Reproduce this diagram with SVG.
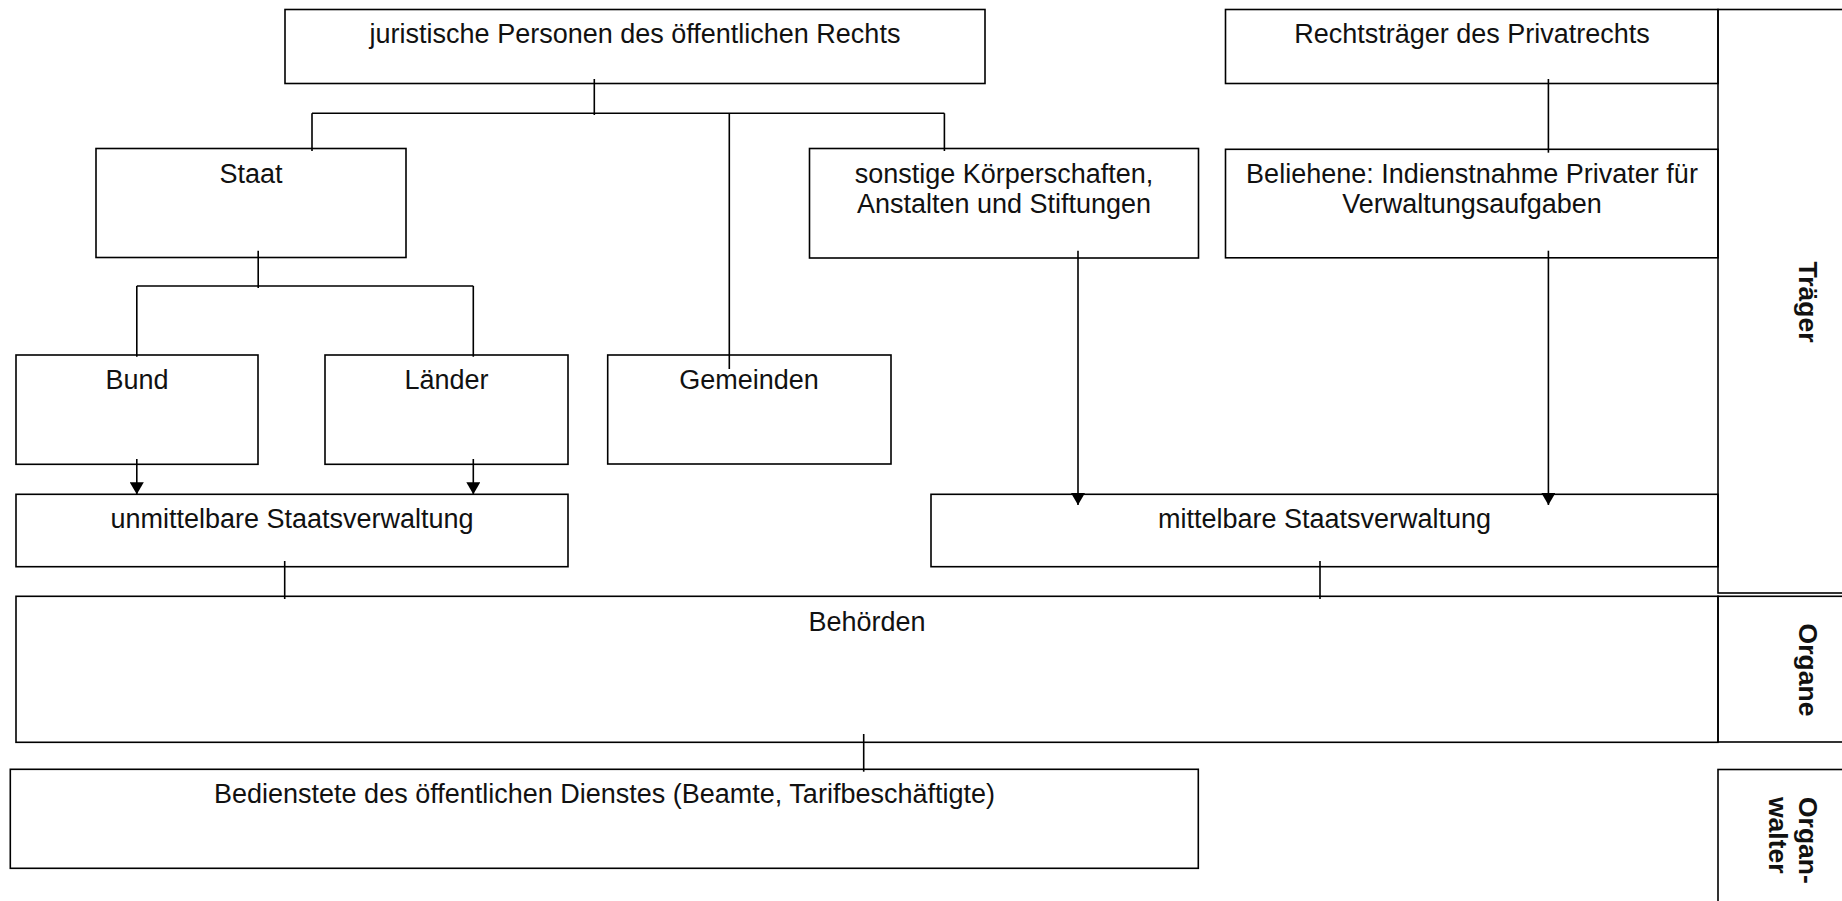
<svg xmlns="http://www.w3.org/2000/svg" width="1842" height="901" viewBox="0 0 1842 901">
  <style>
    .box { fill: none; stroke: #000; stroke-width: 1.6; }
    .lbl { font-family: "Liberation Sans", Arial, sans-serif; font-size: 27px; fill: #111; text-anchor: middle; }
    .side { font-family: "Liberation Sans", Arial, sans-serif; font-size: 26.5px; font-weight: bold; fill: #111; }
    .wire { fill: none; stroke: #000; stroke-width: 1.6; }
    .arrow { marker-end: url(#head); }
  </style>
  <defs>
    <marker id="head" viewBox="0 0 12 14" refX="12" refY="7" markerWidth="12" markerHeight="14" markerUnits="userSpaceOnUse" orient="auto">
      <path d="M0,0 L12,7 L0,14 z" fill="#000"/>
    </marker>
  </defs>
  <rect width="1842" height="901" fill="#fff"/>

  <!-- connectors -->
  <g id="connectors">
    <path class="wire" d="M594.3,79 V115 M312,113.3 H944.4 M312,113.3 V151 M944.4,113.3 V151 M729.3,113.3 V369"/>
    <path class="wire" d="M1548.4,79 V152.7"/>
    <path class="wire" d="M258.2,250.7 V288 M136.8,286 H473.3 M136.8,286 V356.7 M473.3,286 V356.7"/>
    <path class="wire arrow" d="M136.8,459 V494.3"/>
    <path class="wire arrow" d="M473.3,459 V494.3"/>
    <path class="wire arrow" d="M1078,250.7 V505"/>
    <path class="wire arrow" d="M1548.4,250.7 V505"/>
    <path class="wire" d="M284.7,561 V599"/>
    <path class="wire" d="M1320,561 V599"/>
    <path class="wire" d="M863.7,734 V771.7"/>
  </g>

  <!-- public-law legal persons -->
  <g id="juristische-personen">
    <rect class="box" x="285" y="9.5" width="700" height="74"/>
    <text class="lbl" x="635" y="43.3">juristische Personen des öffentlichen Rechts</text>
  </g>
  <g id="rechtstraeger-privatrecht">
    <rect class="box" x="1225.5" y="9.5" width="492.5" height="74"/>
    <text class="lbl" x="1472" y="43.3">Rechtsträger des Privatrechts</text>
  </g>
  <g id="staat">
    <rect class="box" x="96" y="148.5" width="310" height="109"/>
    <text class="lbl" x="251" y="182.7">Staat</text>
  </g>
  <g id="sonstige">
    <rect class="box" x="809.5" y="148.5" width="389" height="109.5"/>
    <text class="lbl" x="1004" y="183">sonstige Körperschaften,</text>
    <text class="lbl" x="1004" y="212.7">Anstalten und Stiftungen</text>
  </g>
  <g id="beliehene">
    <rect class="box" x="1225.5" y="149.3" width="492.5" height="108.5"/>
    <text class="lbl" x="1472" y="182.7">Beliehene: Indienstnahme Privater für</text>
    <text class="lbl" x="1472" y="212.7">Verwaltungsaufgaben</text>
  </g>
  <g id="bund">
    <rect class="box" x="16" y="355" width="242" height="109.3"/>
    <text class="lbl" x="137" y="389">Bund</text>
  </g>
  <g id="laender">
    <rect class="box" x="325" y="355" width="243" height="109.3"/>
    <text class="lbl" x="446.5" y="389">Länder</text>
  </g>
  <g id="gemeinden">
    <rect class="box" x="607.7" y="355" width="283.3" height="109"/>
    <text class="lbl" x="749" y="389">Gemeinden</text>
  </g>
  <g id="unmittelbare">
    <rect class="box" x="16" y="494.3" width="552" height="72.4"/>
    <text class="lbl" x="292" y="528.3">unmittelbare Staatsverwaltung</text>
  </g>
  <g id="mittelbare">
    <rect class="box" x="931" y="494.3" width="787" height="72.4"/>
    <text class="lbl" x="1324.5" y="528.3">mittelbare Staatsverwaltung</text>
  </g>
  <g id="behoerden">
    <rect class="box" x="16" y="596.3" width="1702" height="146"/>
    <text class="lbl" x="867" y="631">Behörden</text>
  </g>
  <g id="bedienstete">
    <rect class="box" x="10.3" y="769.3" width="1188" height="99"/>
    <text class="lbl" x="604.5" y="802.7">Bedienstete des öffentlichen Dienstes (Beamte, Tarifbeschäftigte)</text>
  </g>

  <!-- level column on the right -->
  <g id="traeger">
    <rect class="box" x="1718" y="9.5" width="200" height="583.5"/>
    <text class="side" x="1799" y="302" text-anchor="middle" transform="rotate(90 1799 302)">Träger</text>
  </g>
  <g id="organe">
    <rect class="box" x="1718" y="596.3" width="200" height="145.7"/>
    <text class="side" x="1799" y="670" text-anchor="middle" transform="rotate(90 1799 670)">Organe</text>
  </g>
  <g id="organwalter">
    <rect class="box" x="1718" y="769.5" width="200" height="200"/>
    <text class="side" transform="rotate(90 1799 797)" x="1799" y="797">Organ-<tspan x="1799" dy="30.5">walter</tspan></text>
  </g>
</svg>
